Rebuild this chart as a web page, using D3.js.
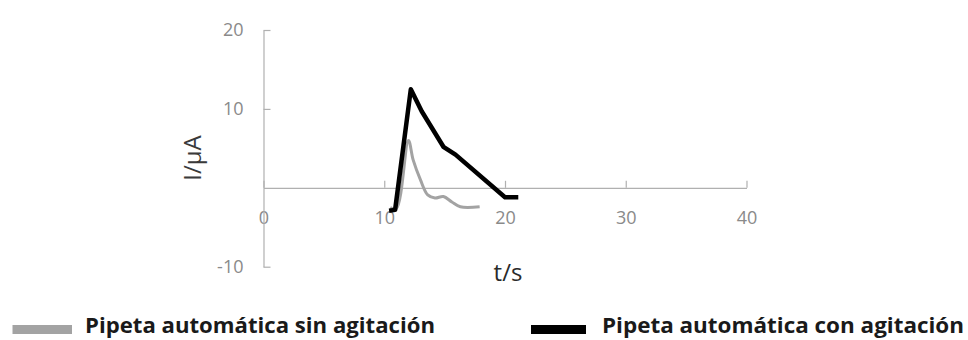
<!DOCTYPE html>
<html>
<head>
<meta charset="utf-8">
<script src="https://cdn.jsdelivr.net/npm/d3@7"></script>
<style>
  html, body { margin: 0; padding: 0; background: #fff; }
  svg { display: block; }
</style>
</head>
<body>
<svg id="chart" width="968" height="340"></svg>
<script>
// Current transients: time (s) and current (µA)
const tSin = [10.5, 11.0, 12.0, 12.4, 13.0, 13.6, 14.2, 14.9, 15.6, 16.3, 17.9];
const iSin = [-2.5, -2.6, 6.0, 3.5, 1.0, -0.9, -1.3, -1.1, -1.8, -2.4, -2.4];

const tCon = [10.4, 10.9, 12.2, 13.1, 14.9, 15.9, 20.0, 21.1];
const iCon = [-2.9, -2.8, 12.5, 9.7, 5.2, 4.2, -1.2, -1.2];

const xTicks = [0, 10, 20, 30, 40];
const yTicks = [-10, 10, 20];

const seriesNames = ["Pipeta automática sin agitación", "Pipeta automática con agitación"];
const seriesColors = ["#a3a3a3", "#000000"];

const svg = d3.select("#chart");

const x = d3.scaleLinear().domain([0, 40]).range([263.5, 746.5]);
const y = d3.scaleLinear().domain([-10, 20]).range([266.7, 30]);

const axisColor = "#b0b0b0";
const tickFont = "'Open Sans', sans-serif";
const plainFormat = d => String(d); // hyphen-minus for negatives

// x axis crosses at I = 0, ticks point up
const gx = svg.append("g")
  .attr("transform", `translate(0,${y(0)})`)
  .call(d3.axisBottom(x).tickValues(xTicks).tickFormat(plainFormat)
    .tickSize(-7).tickPadding(23).tickSizeOuter(0));

// y axis at t = 0, ticks point right
const gy = svg.append("g")
  .attr("transform", `translate(${x(0)},0)`)
  .call(d3.axisLeft(y).tickValues(yTicks).tickFormat(plainFormat)
    .tickSize(-7).tickPadding(20).tickSizeOuter(0));

[gx, gy].forEach(g => {
  g.select(".domain").attr("stroke", axisColor).attr("stroke-width", 1.2);
  g.selectAll(".tick line").attr("stroke", axisColor).attr("stroke-width", 1.2);
  g.selectAll(".tick text")
    .attr("fill", "#8a8a8a")
    .style("font-family", tickFont)
    .style("font-size", "18px");
});

// series lines
const sinData = tSin.map((t, i) => [t, iSin[i]]);
const conData = tCon.map((t, i) => [t, iCon[i]]);

svg.append("path")
  .datum(sinData)
  .attr("fill", "none")
  .attr("stroke", seriesColors[0])
  .attr("stroke-width", 3)
  .attr("stroke-linejoin", "round")
  .attr("d", d3.line().x(d => x(d[0])).y(d => y(d[1])).curve(d3.curveCatmullRom.alpha(0.5)));

svg.append("path")
  .datum(conData)
  .attr("fill", "none")
  .attr("stroke", seriesColors[1])
  .attr("stroke-width", 4.5)
  .attr("stroke-linejoin", "round")
  .attr("d", d3.line().x(d => x(d[0])).y(d => y(d[1])));

// axis titles
svg.append("text")
  .attr("x", 508)
  .attr("y", 281)
  .attr("text-anchor", "middle")
  .attr("fill", "#2a2a2a")
  .style("font-family", tickFont)
  .style("font-size", "24px")
  .text("t/s");

svg.append("text")
  .attr("transform", "translate(201,158) rotate(-90)")
  .attr("text-anchor", "middle")
  .attr("fill", "#3a3a3a")
  .style("font-family", tickFont)
  .style("font-size", "24px")
  .text("I/µA");

// legend
const legend = [
  { sx: 12.5, sw: 59.5, tx: 85, tl: 350 },
  { sx: 531, sw: 55, tx: 602, tl: 362 }
];
legend.forEach((L, i) => {
  svg.append("rect")
    .attr("x", L.sx).attr("y", 325)
    .attr("width", L.sw).attr("height", 9)
    .attr("fill", seriesColors[i]);
  svg.append("text")
    .attr("x", L.tx).attr("y", 333)
    .attr("fill", "#1a1a1a")
    .attr("textLength", L.tl)
    .attr("lengthAdjust", "spacingAndGlyphs")
    .style("font-family", tickFont)
    .style("font-weight", "bold")
    .style("font-size", "22px")
    .text(seriesNames[i]);
});
</script>
</body>
</html>
